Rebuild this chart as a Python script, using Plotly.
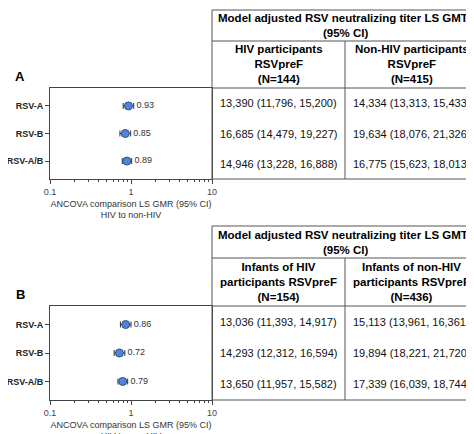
import plotly.graph_objects as go

W, H = 474, 434

rows = ["RSV-A", "RSV-B", "RSV-A/B"]
gmr_a = [0.93, 0.85, 0.89]
lo_a = [0.80, 0.73, 0.78]
hi_a = [1.08, 0.99, 1.02]
gmr_b = [0.86, 0.72, 0.79]
lo_b = [0.74, 0.62, 0.69]
hi_b = [1.00, 0.84, 0.91]

head_a = ["HIV participants<br>RSVpreF<br>(N=144)", "Non-HIV participants<br>RSVpreF<br>(N=415)"]
head_b = ["Infants of HIV<br>participants RSVpreF<br>(N=154)", "Infants of non-HIV<br>participants RSVpreF<br>(N=436)"]
cells_a = [["13,390 (11,796, 15,200)", "16,685 (14,479, 19,227)", "14,946 (13,228, 16,888)"],
           ["14,334 (13,313, 15,433)", "19,634 (18,076, 21,326)", "16,775 (15,623, 18,013)"]]
cells_b = [["13,036 (11,393, 14,917)", "14,293 (12,312, 16,594)", "13,650 (11,957, 15,582)"],
           ["15,113 (13,961, 16,361)", "19,894 (18,221, 21,720)", "17,339 (16,039, 18,744)"]]
title_txt = "<b>Model adjusted RSV neutralizing titer LS GMTs<br>(95% CI)</b>"


def px(x):
    return x / W


def py(y):
    return 1 - y / H


fig = go.Figure()
FONT = "Liberation Sans, Arial"

panels = [
    dict(lbl="A", top=2, h1=33, h2=80, bot=171, gmr=gmr_a, lo=lo_a, hi=hi_a, head=head_a, cells=cells_a, ax=""),
    dict(lbl="B", top=218, h1=250, h2=298, bot=392, gmr=gmr_b, lo=lo_b, hi=hi_b, head=head_b, cells=cells_b, ax="2"),
]

shapes = []
ann = []
x0, x1, xm = 204, 470, 337
minor_vals = [v * m for m in (0.1, 1) for v in range(2, 10)]


def note(text, x, y, size, color="#000"):
    return dict(text=text, x=px(x), y=py(y), xref="paper", yref="paper", xanchor="center",
                yanchor="middle", showarrow=False, font=dict(size=size, color=color))


for p in panels:
    ax = p["ax"]
    fig.add_trace(go.Scatter(
        x=p["gmr"], y=[0, 1, 2], mode="markers",
        marker=dict(size=8, color="#4f86d6", line=dict(color="#2a4f8a", width=1)),
        error_x=dict(type="data", symmetric=False,
                     array=[h - g for h, g in zip(p["hi"], p["gmr"])],
                     arrayminus=[g - l for g, l in zip(p["gmr"], p["lo"])],
                     color="#333", thickness=1, width=3),
        xaxis="x" + ax, yaxis="y" + ax, showlegend=False))
    fig.add_trace(go.Scatter(
        x=[h * 1.08 for h in p["hi"]], y=[0, 1, 2], mode="text",
        text=[f"{g:.2f}" for g in p["gmr"]], textposition="middle right",
        textfont=dict(size=9, color="#333"),
        xaxis="x" + ax, yaxis="y" + ax, showlegend=False))
    dom_y = [py(p["bot"]), py(p["h2"])]
    axis_x = dict(type="log", domain=[px(42), px(204)], range=[-1, 1], automargin=False,
                  tickvals=[0.1, 1, 10], ticktext=["0.1", "1", "10"], ticks="outside", ticklen=4,
                  minor=dict(tickmode="array", tickvals=minor_vals, ticks="outside", ticklen=2),
                  showline=True, linecolor="#444", mirror=True, showgrid=False, zeroline=False,
                  tickfont=dict(size=9, color="#444"), anchor="y" + ax,
                  title=dict(text="ANCOVA comparison LS GMR (95% CI)<br>HIV to non-HIV",
                             font=dict(size=9, color="#333"), standoff=4))
    axis_y = dict(domain=dom_y, range=[2.65, -0.65], tickvals=[0, 1, 2], automargin=False,
                  ticktext=[f"<b>{r}</b>" for r in rows], ticks="outside", ticklen=4,
                  showline=True, linecolor="#444", mirror=True, showgrid=False, zeroline=False,
                  tickfont=dict(size=9, color="#222"), anchor="x" + ax)
    fig.update_layout(**{"xaxis" + ax: axis_x, "yaxis" + ax: axis_y})

    ann.append(note(f"<b>{p['lbl']}</b>", 12, p["h2"] - 12, 13))
    line = dict(color="#555", width=1)
    shapes += [
        dict(type="rect", xref="paper", yref="paper", x0=px(x0), x1=px(x1), y0=py(p["bot"]), y1=py(p["top"]), line=line),
        dict(type="line", xref="paper", yref="paper", x0=px(x0), x1=px(x1), y0=py(p["h1"]), y1=py(p["h1"]), line=line),
        dict(type="line", xref="paper", yref="paper", x0=px(x0), x1=px(x1), y0=py(p["h2"]), y1=py(p["h2"]), line=line),
        dict(type="line", xref="paper", yref="paper", x0=px(xm), x1=px(xm), y0=py(p["bot"]), y1=py(p["h1"]), line=line),
    ]
    ann.append(note(title_txt, (x0 + x1) / 2, (p["top"] + p["h1"]) / 2, 11.5))
    for j, (cx, hd) in enumerate(zip([(x0 + xm) / 2, (xm + x1) / 2], p["head"])):
        ann.append(note(f"<b>{hd}</b>", cx, (p["h1"] + p["h2"]) / 2, 11.5))
        rh = (p["bot"] - p["h2"]) / 3
        for i, c in enumerate(p["cells"][j]):
            ann.append(note(c, cx, p["h2"] + rh * (i + 0.5), 11, "#111"))

fig.update_layout(width=W, height=H, margin=dict(l=0, r=0, t=0, b=0),
                  paper_bgcolor="white", plot_bgcolor="white",
                  font=dict(family=FONT), shapes=shapes, annotations=ann)
fig.write_html("out.html")
